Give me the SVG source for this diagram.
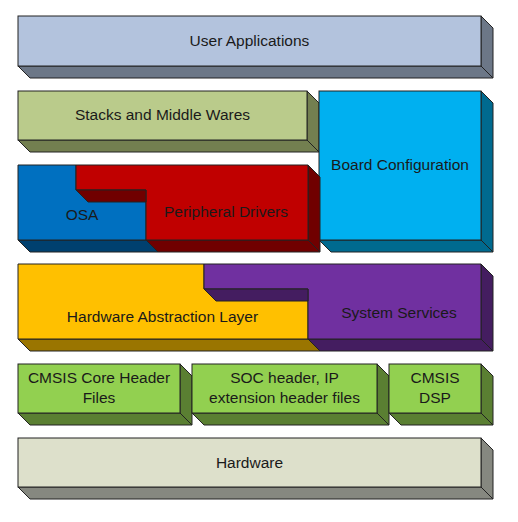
<svg xmlns="http://www.w3.org/2000/svg" width="518" height="522" viewBox="0 0 518 522">
<style>
  .s { stroke: #222; stroke-width: 1; stroke-linejoin: miter; }
  text { font-family: "Liberation Sans", Arial, sans-serif; font-size: 15.5px; fill: #1a1a1a; text-anchor: middle; }
  .ua { fill: #B3C3DD; } .uad { fill: #6C7787; }
  .st { fill: #BACB8B; } .std { fill: #737F50; }
  .bc { fill: #00B0F0; } .bcd { fill: #006A8F; }
  .os { fill: #0070C0; } .osd { fill: #00406F; }
  .pd { fill: #C00000; } .pdd { fill: #700000; }
  .hl { fill: #FFC000; } .hld { fill: #9A7500; }
  .ss { fill: #7030A0; } .ssd { fill: #441D60; }
  .gr { fill: #92D050; } .grd { fill: #5A7F32; }
  .hw { fill: #DDE0CB; } .hwd { fill: #868880; }
</style>
<rect width="518" height="522" fill="#fff"/>
<g id="connectors"></g>

<g id="user-applications">
  <polygon class="s uad" points="18,66 481,66 493,78 30,78"/>
  <polygon class="s uad" points="481,16 493,28 493,78 481,66"/>
  <rect class="s ua" x="18" y="16" width="463" height="50"/>
  <text x="249.5" y="46">User Applications</text>
</g>

<g id="stacks-middlewares">
  <polygon class="s std" points="18,140 307,140 319,152 30,152"/>
  <polygon class="s std" points="307,91 319,103 319,152 307,140"/>
  <rect class="s st" x="18" y="91" width="289" height="49"/>
  <text x="162.5" y="120">Stacks and Middle Wares</text>
</g>

<g id="board-configuration">
  <polygon class="s bcd" points="319,240 481,240 493,252 331,252"/>
  <polygon class="s bcd" points="481,91 493,103 493,252 481,240"/>
  <rect class="s bc" x="319" y="91" width="162" height="149"/>
  <text x="400" y="170">Board Configuration</text>
</g>

<g id="osa">
  <polygon class="s osd" points="18,240 146,240 158,252 30,252"/>
  <polygon class="s os" points="18,165 76,165 76,190 146,190 146,240 18,240"/>
  <text x="82" y="220">OSA</text>
</g>

<g id="peripheral-drivers">
  <polygon class="s pdd" points="146,240 308,240 320,252 158,252"/>
  <polygon class="s pdd" points="308,165 320,177 320,252 308,240"/>
  <polygon class="s pd" points="76,165 308,165 308,240 146,240 146,190 76,190"/>
  <polygon class="s pdd" points="76,190 146,190 146,202 88,202"/>
  <text x="226" y="217">Peripheral Drivers</text>
</g>

<g id="hardware-abstraction-layer">
  <polygon class="s hld" points="18,339 308,339 320,351 30,351"/>
  <polygon class="s hl" points="18,264 204,264 204,289 308,289 308,339 18,339"/>
  <text x="162.5" y="322">Hardware Abstraction Layer</text>
</g>

<g id="system-services">
  <polygon class="s ssd" points="308,339 481,339 493,351 320,351"/>
  <polygon class="s ssd" points="481,264 493,276 493,351 481,339"/>
  <polygon class="s ss" points="204,264 481,264 481,339 308,339 308,289 204,289"/>
  <polygon class="s ssd" points="204,289 308,289 308,301 216,301"/>
  <text x="399" y="318">System Services</text>
</g>

<g id="cmsis-core">
  <polygon class="s grd" points="18,413 180,413 192,425 30,425"/>
  <polygon class="s grd" points="180,364 192,376 192,425 180,413"/>
  <rect class="s gr" x="18" y="364" width="162" height="49"/>
  <text x="99" y="383">CMSIS Core Header</text>
  <text x="99" y="403">Files</text>
</g>

<g id="soc-header">
  <polygon class="s grd" points="192,413 377,413 389,425 204,425"/>
  <polygon class="s grd" points="377,364 389,376 389,425 377,413"/>
  <rect class="s gr" x="192" y="364" width="185" height="49"/>
  <text x="284.5" y="383">SOC header, IP</text>
  <text x="284.5" y="403">extension header files</text>
</g>

<g id="cmsis-dsp">
  <polygon class="s grd" points="389,413 481,413 493,425 401,425"/>
  <polygon class="s grd" points="481,364 493,376 493,425 481,413"/>
  <rect class="s gr" x="389" y="364" width="92" height="49"/>
  <text x="435" y="383">CMSIS</text>
  <text x="435" y="403">DSP</text>
</g>

<g id="hardware">
  <polygon class="s hwd" points="18,487 481,487 493,499 30,499"/>
  <polygon class="s hwd" points="481,438 493,450 493,499 481,487"/>
  <rect class="s hw" x="18" y="438" width="463" height="49"/>
  <text x="249.5" y="468">Hardware</text>
</g>
</svg>
